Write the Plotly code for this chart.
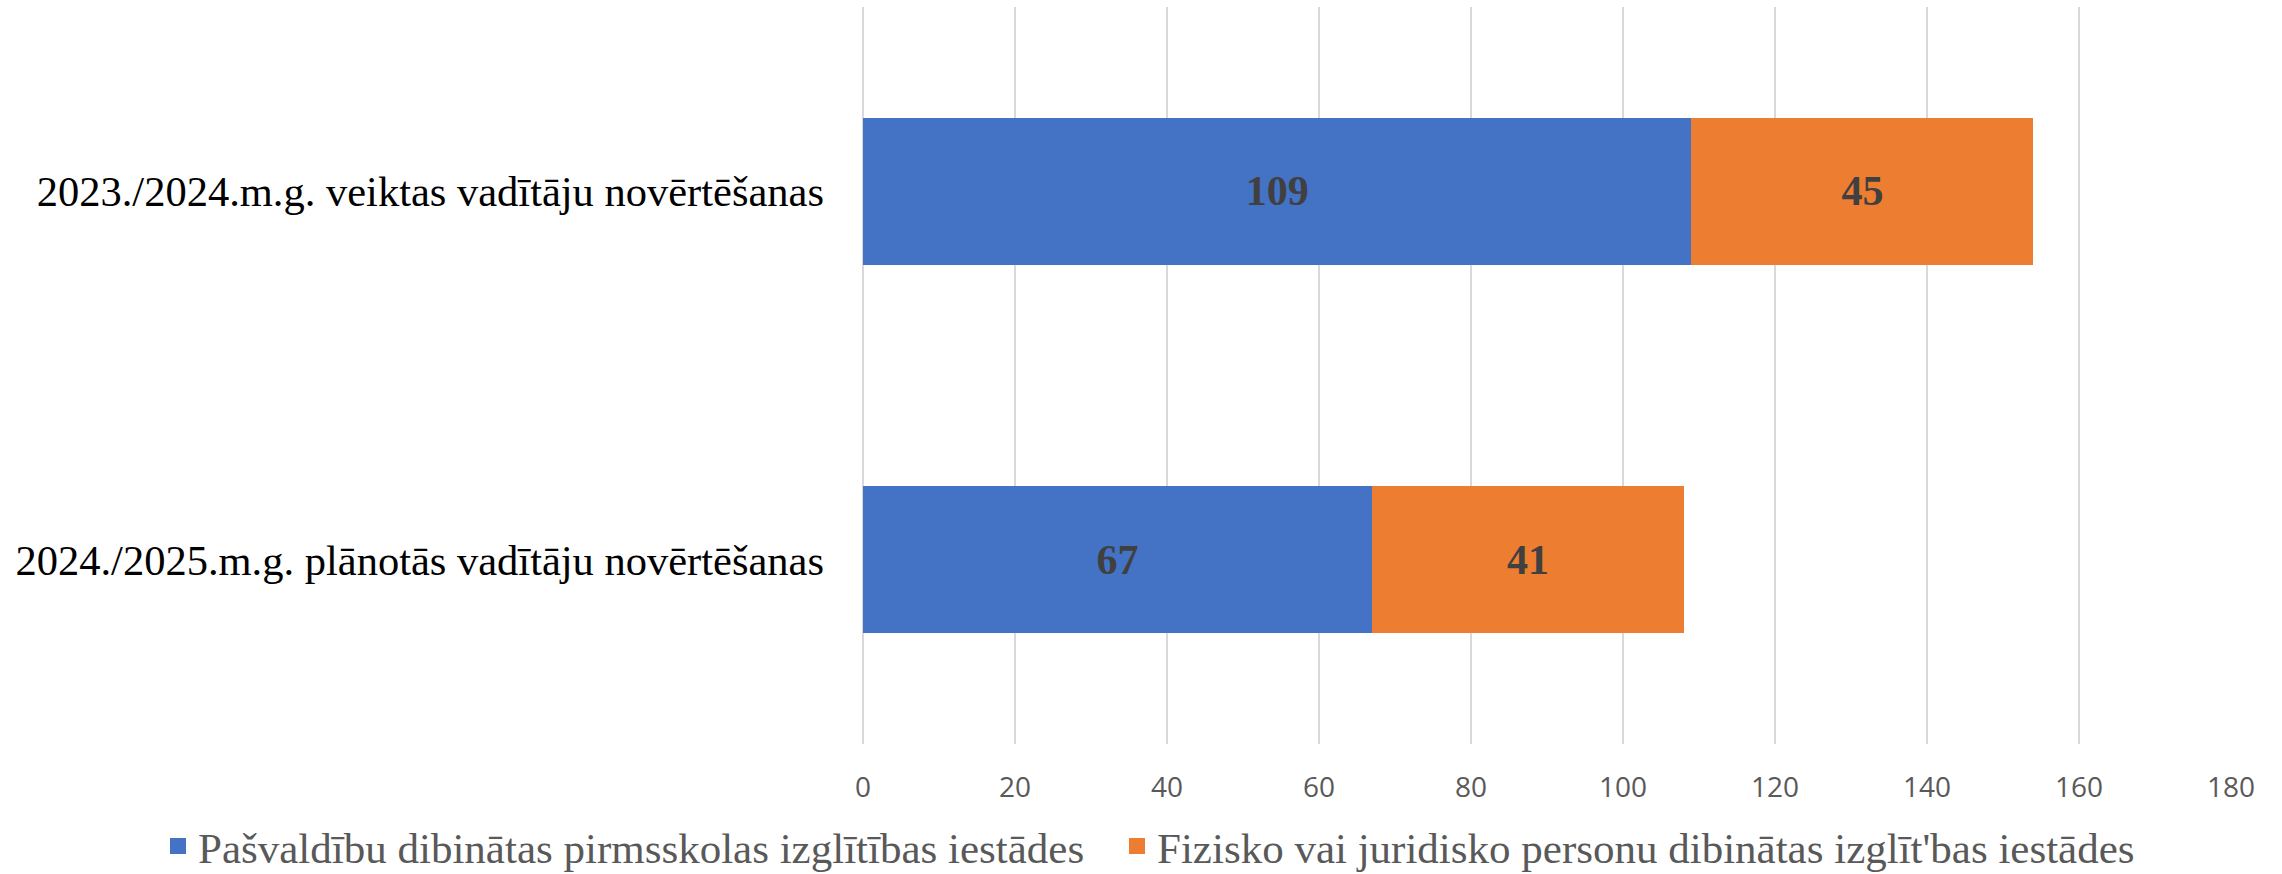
import plotly.graph_objects as go

categories = [
    "2023./2024.m.g. veiktas vadītāju novērtēšanas",
    "2024./2025.m.g. plānotās vadītāju novērtēšanas",
]
series_names = [
    "Pašvaldību dibinātas pirmsskolas izglītības iestādes",
    "Fizisko vai juridisko personu dibinātas izglīt'bas iestādes",
]
municipal = [109, 67]
private = [45, 41]
x_ticks = [0, 20, 40, 60, 80, 100, 120, 140, 160, 180]
colors = ["#4472C4", "#ED7D31"]
legend_ids = ["legend", "legend2"]

fig = go.Figure()
for name, vals, col in zip(series_names, [municipal, private], colors):
    fig.add_trace(go.Bar(
        y=categories, x=vals, orientation="h", name=name,
        marker=dict(color=col, line=dict(width=0)),
        text=vals, textposition="inside", insidetextanchor="middle",
        textangle=0,
        textfont=dict(family="Liberation Serif", size=42, color="#404040", weight="bold"),
        showlegend=False,
    ))
for name, col, lid in zip(series_names, colors, legend_ids):
    fig.add_trace(go.Scatter(
        x=[None], y=[None], mode="markers", name=name, legend=lid,
        marker=dict(symbol="square", size=16, color=col, line=dict(width=0)),
        showlegend=True,
    ))

L, R, T, B = 863, 51, 7, 130
W, H = 2282, 874
plot_w = W - L - R
plot_h = H - T - B

legend_y = -(846 - (T + plot_h)) / plot_h
legend_style = dict(
    orientation="h", xref="paper", yref="paper", xanchor="left",
    y=legend_y, yanchor="middle",
    font=dict(family="Liberation Serif", size=43, color="#595959"),
    itemsizing="trace", bgcolor="rgba(0,0,0,0)",
)

fig.update_layout(
    width=W, height=H,
    margin=dict(l=L, r=R, t=T, b=B, autoexpand=False),
    barmode="stack", bargap=0.6,
    plot_bgcolor="white", paper_bgcolor="white",
    xaxis=dict(
        range=[0, 180], tickvals=x_ticks, showgrid=True,
        gridcolor="#d9d9d9", gridwidth=2, zeroline=True,
        zerolinecolor="#d9d9d9", zerolinewidth=2, showline=False,
        tickfont=dict(family="Open Sans", size=28, color="#595959"),
        ticklabelstandoff=24, automargin=False,
    ),
    yaxis=dict(
        autorange="reversed", showgrid=False, zeroline=False, showline=False,
        tickfont=dict(family="Liberation Serif", size=42.5, color="#000000"),
        ticklabelstandoff=38, automargin=False,
    ),
    legend=dict(x=(158 - L) / plot_w, **legend_style),
    legend2=dict(x=(1117 - L) / plot_w, **legend_style),
)

fig.write_html("out.html", config={"displayModeBar": False},
               post_script="document.body.style.margin='0';")
